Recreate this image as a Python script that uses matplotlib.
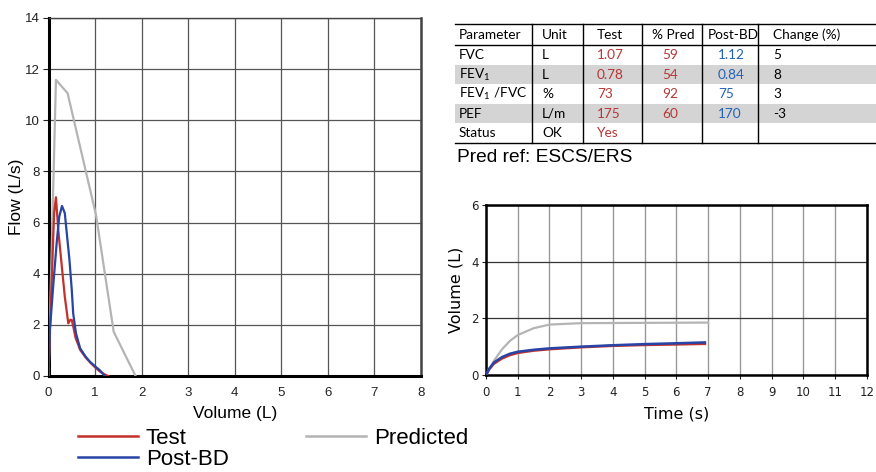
import numpy as np
import matplotlib
matplotlib.use('Agg')
import matplotlib.pyplot as plt
from matplotlib.lines import Line2D

plt.rcParams['mathtext.default'] = 'regular'

# flow-volume loop (L, L/s)
test_vol = [0, 0.03, 0.07, 0.12, 0.16, 0.21, 0.28, 0.35, 0.425, 0.47, 0.5, 0.53, 0.58, 0.68, 0.8, 0.9, 1.0, 1.1, 1.2, 1.28]
test_flow = [0, 1.8, 3.75, 6.37, 6.99, 5.7, 4.4, 3.1, 2.06, 2.2, 2.19, 1.95, 1.5, 1.02, 0.72, 0.52, 0.34, 0.18, 0.07, 0]
post_vol = [0, 0.03, 0.1, 0.18, 0.23, 0.29, 0.35, 0.40, 0.45, 0.5, 0.53, 0.59, 0.68, 0.8, 0.89, 1.0, 1.1, 1.21]
post_flow = [0, 1.8, 3.5, 5.3, 6.23, 6.65, 6.37, 5.45, 4.54, 3.36, 2.45, 1.67, 1.08, 0.75, 0.56, 0.38, 0.23, 0]
pred_vol = [0, 0.16, 0.41, 1.02, 1.4, 1.87]
pred_flow = [0, 11.58, 11.06, 6.3, 1.73, 0]

# volume-time (s, L)
vt_time = [0, 0.1, 0.25, 0.5, 0.75, 1, 1.5, 2, 3, 4, 5, 6, 6.9]
vt_test = [0, 0.2, 0.4, 0.58, 0.7, 0.78, 0.86, 0.91, 0.98, 1.03, 1.06, 1.08, 1.1]
vt_post = [0, 0.22, 0.44, 0.63, 0.75, 0.82, 0.89, 0.94, 1.0, 1.05, 1.09, 1.12, 1.15]
vt_pred_time = [0, 0.1, 0.25, 0.5, 0.75, 1, 1.5, 2, 3, 5, 7]
vt_pred = [0, 0.2, 0.5, 0.9, 1.2, 1.41, 1.65, 1.78, 1.83, 1.84, 1.85]

# results table
tbl_header = ['Parameter', 'Unit', 'Test', '% Pred', 'Post-BD', 'Change (%)']
tbl_param = ['FVC', 'FEV$_1$', 'FEV$_1$ /FVC', 'PEF', 'Status']
tbl_unit = ['L', 'L', '%', 'L/m', 'OK']
tbl_test = ['1.07', '0.78', '73', '175', 'Yes']
tbl_pct = ['59', '54', '92', '60', '']
tbl_post = ['1.12', '0.84', '75', '170', '']
tbl_change = ['5', '8', '3', '-3', '']

RED = '#c4302b'
BLUE = '#2744a6'
GRAY = '#b4b4b4'
TRED = '#b83636'
TBLUE = '#2262b8'

fig = plt.figure(figsize=(8.76, 4.72), dpi=100)

########## flow-volume ##########
ax1 = fig.add_axes([48.5/876, 96/472, 372.5/876, 358/472])
ax1.plot(pred_vol, pred_flow, color=GRAY, lw=1.6, zorder=3)
ax1.plot(test_vol, test_flow, color=RED, lw=1.6, zorder=4)
ax1.plot(post_vol, post_flow, color=BLUE, lw=1.6, zorder=5)
ax1.set_xlim(0, 8)
ax1.set_ylim(0, 14)
ax1.set_xticks(range(0, 9))
ax1.set_yticks(range(0, 15, 2))
ax1.grid(True, color='#555555', lw=0.9)
ax1.set_axisbelow(True)
for s in ['left', 'bottom']:
    ax1.spines[s].set_linewidth(2.2)
    ax1.spines[s].set_color('black')
ax1.spines['right'].set_linewidth(1.8)
ax1.spines['right'].set_color('#444444')
ax1.spines['top'].set_linewidth(1.0)
ax1.spines['top'].set_color('#444444')
ax1.tick_params(axis='y', length=4, width=0.8, pad=2, labelsize=9.5, colors='#222222')
ax1.tick_params(axis='x', length=0, pad=8, labelsize=9.5, colors='#222222')
for lab in ax1.get_xticklabels() + ax1.get_yticklabels():
    lab.set_family('Liberation Sans')
ax1.set_xlabel('Volume (L)', family='Liberation Sans', fontsize=12.5, labelpad=5)
ax1.set_ylabel('Flow (L/s)', family='Liberation Sans', fontsize=12.5, labelpad=1)

########## volume-time ##########
ax2 = fig.add_axes([486/876, 97/472, 380.7/876, 170/472])
ax2.plot(vt_pred_time, vt_pred, color=GRAY, lw=1.6, zorder=3)
ax2.plot(vt_time, vt_test, color=RED, lw=1.8, zorder=4)
ax2.plot(vt_time, vt_post, color=BLUE, lw=1.8, zorder=5)
ax2.set_xlim(0, 12)
ax2.set_ylim(0, 6)
ax2.set_xticks(range(0, 13))
ax2.set_yticks(range(0, 7, 2))
ax2.xaxis.grid(True, color='#999999', lw=1.0)
ax2.yaxis.grid(True, color='#333333', lw=0.9)
ax2.set_axisbelow(True)
for s in ax2.spines.values():
    s.set_linewidth(1.8)
    s.set_color('black')
ax2.tick_params(length=3, width=0.8, pad=2, labelsize=8.5, colors='#222222')
ax2.tick_params(axis='x', pad=5)
ax2.set_xlabel('Time (s)', fontsize=11.5, labelpad=5)
ax2.set_ylabel('Volume (L)', fontsize=11.5, labelpad=6)

########## legend ##########
handles = [Line2D([], [], color=RED, lw=1.8, label='Test'),
           Line2D([], [], color=BLUE, lw=1.8, label='Post-BD'),
           Line2D([], [], color=GRAY, lw=1.8, label='Predicted')]
fig.legend(handles=handles, ncol=2, loc='upper left', bbox_to_anchor=(78/876, 1 - 428/472),
           frameon=False, prop={'family': 'Liberation Sans', 'size': 16},
           handlelength=2.7, handletextpad=0.35, columnspacing=3.5,
           labelspacing=0.0, borderpad=0, borderaxespad=0)

########## table ##########
axt = fig.add_axes([0, 0, 1, 1], zorder=-1)
axt.set_xlim(0, 876)
axt.set_ylim(472, 0)
axt.axis('off')

row_h = 19.5
top = 24.3
head_bot = 45
row_tops = [head_bot + i * row_h for i in range(len(tbl_param))]
for i in (1, 3):
    axt.axhspan(row_tops[i], row_tops[i] + row_h, xmin=455/876, xmax=1, color='#d4d4d4', lw=0)
bottom = row_tops[-1] + row_h
for y in (top, head_bot, bottom):
    axt.plot([455, 876], [y, y], color='black', lw=1.0)
for x in (531.7, 583.3, 641.7, 702.3, 758.3):
    axt.plot([x, x], [top, bottom], color='black', lw=1.0)

tfont = {'family': ['Lato', 'DejaVu Sans'], 'fontsize': 9.8}
hx = [459, 542, 597, 652, 708, 773]
for x, h in zip(hx, tbl_header):
    axt.text(x, (top + head_bot) / 2 + 0.5, h, va='center', ha='left', color='black', **tfont)
cols = [(459, tbl_param, 'black'), (542, tbl_unit, 'black'), (597, tbl_test, TRED),
        (662, tbl_pct, TRED), (718, tbl_post, TBLUE), (773, tbl_change, 'black')]
for x, vals, c in cols:
    for i, v in enumerate(vals):
        axt.text(x, row_tops[i] + row_h / 2 + 0.5, v, va='center', ha='left', color=c, **tfont)

axt.text(457, 157, 'Pred ref: ESCS/ERS', va='center', ha='left', family='Liberation Sans', fontsize=13.8)

fig.savefig('out.png', dpi=100)
